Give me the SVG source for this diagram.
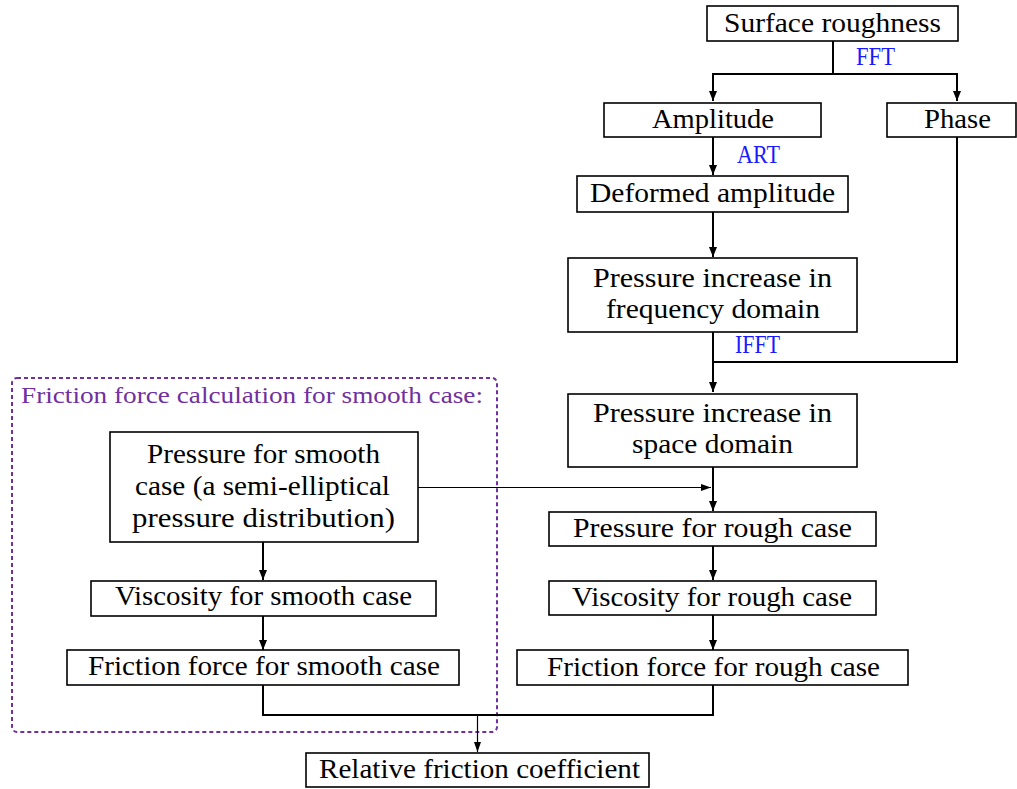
<svg xmlns="http://www.w3.org/2000/svg" width="1017" height="789" viewBox="0 0 1017 789">
<style>
.box{fill:#fff;stroke:#000;stroke-width:1.6}
.t{font-family:"Liberation Serif","Times New Roman",serif;font-size:28px;fill:#000;text-anchor:middle}
.b{font-family:"Liberation Serif","Times New Roman",serif;font-size:25px;fill:#1a1aff}
.p{font-family:"Liberation Serif","Times New Roman",serif;font-size:24px;fill:#7030a0}
.c{fill:none;stroke:#000;stroke-width:2}
.ct{fill:none;stroke:#000;stroke-width:1.2}
</style>
<defs>
<marker id="ah" markerUnits="userSpaceOnUse" markerWidth="10" markerHeight="10" refX="10" refY="5" orient="auto"><path d="M0,1 L10,5 L0,9 z" fill="#000"/></marker>
<marker id="ahs" markerUnits="userSpaceOnUse" markerWidth="10" markerHeight="8" refX="10" refY="4" orient="auto"><path d="M0,0.5 L10,4 L0,7.5 z" fill="#000"/></marker>
</defs>
<rect x="0" y="0" width="1017" height="789" fill="#fff"/>
<g id="smooth-group">
<rect x="12" y="378" width="485" height="354" rx="5" fill="none" stroke="#7030a0" stroke-width="2" stroke-dasharray="4 3"/>
<text class="p" x="21" y="403" textLength="462" lengthAdjust="spacingAndGlyphs">Friction force calculation for smooth case:</text>
</g>
<g id="connectors">
<path class="c" d="M833 41 V74 H713 V101" marker-end="url(#ah)"/>
<path class="c" d="M833 74 H957 V101" marker-end="url(#ah)"/>
<path class="c" d="M713 137 V175" marker-end="url(#ah)"/>
<path class="c" d="M713 212 V257" marker-end="url(#ah)"/>
<path class="c" d="M713 332 V392" marker-end="url(#ah)"/>
<path class="c" d="M957 137 V362 H713"/>
<path class="c" d="M713 467 V511" marker-end="url(#ah)"/>
<path class="ct" d="M418 487.5 H711" marker-end="url(#ahs)"/>
<path class="c" d="M713 546 V580" marker-end="url(#ah)"/>
<path class="c" d="M713 615 V650" marker-end="url(#ah)"/>
<path class="c" d="M263 542 V580" marker-end="url(#ah)"/>
<path class="c" d="M263 616 V650" marker-end="url(#ah)"/>
<path class="c" d="M263 685 V715 H713 V685"/>
<path class="ct" d="M477.5 715 V752" marker-end="url(#ahs)"/>
</g>
<g id="surface-roughness">
<rect class="box" x="707" y="6" width="251" height="35"/>
<text class="t" x="832.5" y="32" textLength="217" lengthAdjust="spacingAndGlyphs">Surface roughness</text>
</g>
<g id="fft-label"><text class="b" x="856" y="65" textLength="39" lengthAdjust="spacingAndGlyphs">FFT</text></g>
<g id="amplitude">
<rect class="box" x="604" y="103" width="217" height="34"/>
<text class="t" x="713" y="128" textLength="122" lengthAdjust="spacingAndGlyphs">Amplitude</text>
</g>
<g id="phase">
<rect class="box" x="887" y="103" width="129" height="34"/>
<text class="t" x="957.5" y="128" textLength="67" lengthAdjust="spacingAndGlyphs">Phase</text>
</g>
<g id="art-label"><text class="b" x="737" y="163" textLength="43" lengthAdjust="spacingAndGlyphs">ART</text></g>
<g id="deformed-amplitude">
<rect class="box" x="577" y="176" width="271" height="36"/>
<text class="t" x="712.5" y="202" textLength="245" lengthAdjust="spacingAndGlyphs">Deformed amplitude</text>
</g>
<g id="pressure-frequency">
<rect class="box" x="568" y="258" width="289" height="74"/>
<text class="t" x="712.5" y="287" textLength="239" lengthAdjust="spacingAndGlyphs">Pressure increase in</text>
<text class="t" x="713" y="318" textLength="214" lengthAdjust="spacingAndGlyphs">frequency domain</text>
</g>
<g id="ifft-label"><text class="b" x="735" y="353" textLength="45" lengthAdjust="spacingAndGlyphs">IFFT</text></g>
<g id="pressure-space">
<rect class="box" x="568" y="394" width="289" height="73"/>
<text class="t" x="712.5" y="422" textLength="239" lengthAdjust="spacingAndGlyphs">Pressure increase in</text>
<text class="t" x="712.5" y="453" textLength="161" lengthAdjust="spacingAndGlyphs">space domain</text>
</g>
<g id="pressure-smooth">
<rect class="box" x="110" y="432" width="308" height="110"/>
<text class="t" x="263.5" y="463" textLength="233" lengthAdjust="spacingAndGlyphs">Pressure for smooth</text>
<text class="t" x="262.5" y="495" textLength="255" lengthAdjust="spacingAndGlyphs">case (a semi-elliptical</text>
<text class="t" x="263.5" y="527" textLength="263" lengthAdjust="spacingAndGlyphs">pressure distribution)</text>
</g>
<g id="viscosity-smooth">
<rect class="box" x="91" y="581" width="345" height="35"/>
<text class="t" x="263.5" y="605" textLength="297" lengthAdjust="spacingAndGlyphs">Viscosity for smooth case</text>
</g>
<g id="friction-smooth">
<rect class="box" x="67" y="650" width="392" height="35"/>
<text class="t" x="264" y="675" textLength="352" lengthAdjust="spacingAndGlyphs">Friction force for smooth case</text>
</g>
<g id="pressure-rough">
<rect class="box" x="549" y="512" width="327" height="34"/>
<text class="t" x="712.5" y="537" textLength="279" lengthAdjust="spacingAndGlyphs">Pressure for rough case</text>
</g>
<g id="viscosity-rough">
<rect class="box" x="549" y="581" width="327" height="34"/>
<text class="t" x="712" y="606" textLength="280" lengthAdjust="spacingAndGlyphs">Viscosity for rough case</text>
</g>
<g id="friction-rough">
<rect class="box" x="517" y="650" width="391" height="35"/>
<text class="t" x="713.5" y="676" textLength="333" lengthAdjust="spacingAndGlyphs">Friction force for rough case</text>
</g>
<g id="relative-friction">
<rect class="box" x="306" y="753" width="343" height="34"/>
<text class="t" x="479.5" y="778" textLength="321" lengthAdjust="spacingAndGlyphs">Relative friction coefficient</text>
</g>
</svg>
